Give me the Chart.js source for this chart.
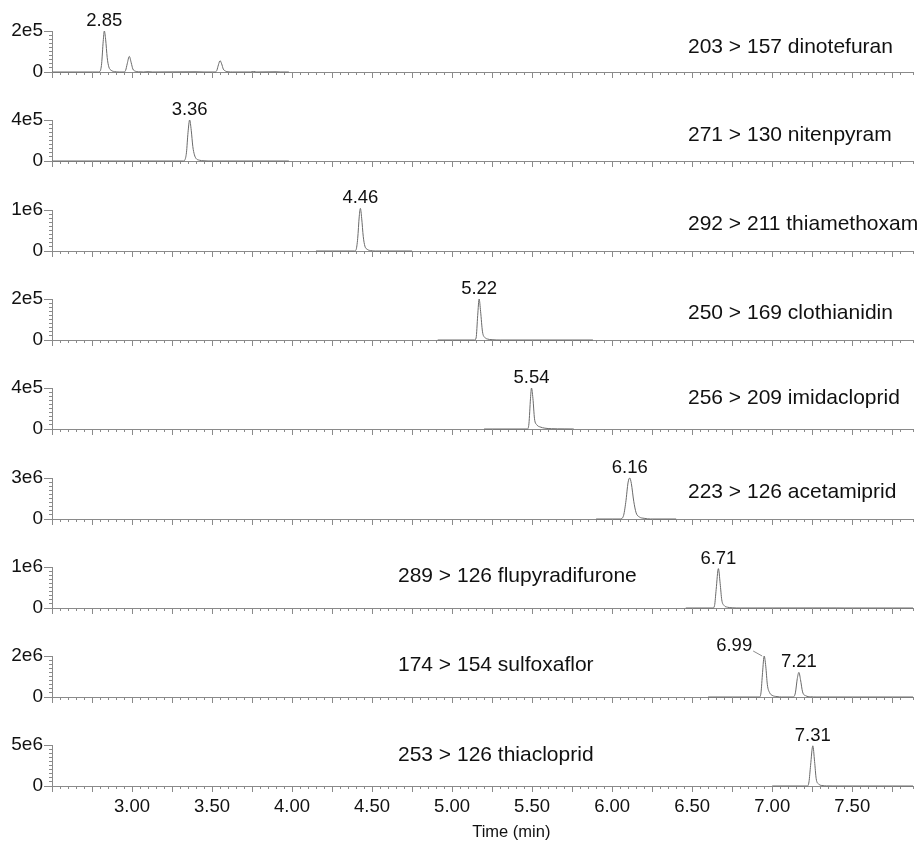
<!DOCTYPE html>
<html>
<head>
<meta charset="utf-8">
<title>MRM chromatograms</title>
<script src="https://cdn.jsdelivr.net/npm/chart.js@4.4.1/dist/chart.umd.min.js"></script>
<style>
  body { margin: 0; background: #fff; width: 922px; height: 842px; overflow: hidden; position: relative; }
  canvas { position: absolute; left: 0; }
</style>
</head>
<body>
<script>
// one panel per MRM transition
const transitions = [
  "203 > 157 dinotefuran",
  "271 > 130 nitenpyram",
  "292 > 211 thiamethoxam",
  "250 > 169 clothianidin",
  "256 > 209 imidacloprid",
  "223 > 126 acetamiprid",
  "289 > 126 flupyradifurone",
  "174 > 154 sulfoxaflor",
  "253 > 126 thiacloprid"
];
const yMax = [2e5, 4e5, 1e6, 2e5, 4e5, 3e6, 1e6, 2e6, 5e6];
const yTopLabels = ["2e5", "4e5", "1e6", "2e5", "4e5", "3e6", "1e6", "2e6", "5e6"];
const xTickValues = [3.0, 3.5, 4.0, 4.5, 5.0, 5.5, 6.0, 6.5, 7.0, 7.5];
const xTickLabels = ["3.00", "3.50", "4.00", "4.50", "5.00", "5.50", "6.00", "6.50", "7.00", "7.50"];

// traces: [time (min), intensity]
const dinotefuran = [
  [2.50, 0], [2.79, 0], [2.80, 3000], [2.81, 40000], [2.82, 150000], [2.827, 200000], [2.835, 160000],
  [2.845, 70000], [2.855, 25000], [2.87, 8000], [2.89, 2000], [2.92, 0],
  [2.95, 0], [2.96, 8000], [2.97, 40000], [2.983, 76000], [2.995, 45000], [3.005, 15000], [3.02, 4000],
  [3.04, 1000], [3.07, 0], [3.10, 1500], [3.13, 0], [3.40, 1000], [3.45, 0],
  [3.52, 0], [3.53, 8000], [3.54, 35000], [3.55, 55000], [3.56, 40000], [3.57, 15000], [3.585, 4000],
  [3.60, 1000], [3.63, 0], [3.74, 0], [3.76, 2500], [3.78, 0], [3.90, 1000], [3.93, 0], [3.98, 0]
];
const nitenpyram = [
  [2.50, 0], [3.32, 0], [3.33, 10000], [3.34, 80000], [3.35, 280000], [3.36, 400000], [3.37, 300000],
  [3.38, 140000], [3.39, 60000], [3.40, 25000], [3.42, 8000], [3.45, 2000], [3.50, 0], [3.98, 0]
];
const thiamethoxam = [
  [4.15, 0], [4.39, 0], [4.40, 30000], [4.41, 300000], [4.42, 850000], [4.427, 1040000], [4.435, 800000],
  [4.445, 350000], [4.455, 120000], [4.47, 40000], [4.49, 10000], [4.52, 0], [4.75, 0]
];
const clothianidin = [
  [4.91, 0], [5.14, 0], [5.15, 10000], [5.16, 120000], [5.169, 200000], [5.178, 140000], [5.19, 40000],
  [5.205, 12000], [5.22, 5000], [5.25, 1500], [5.30, 0], [5.88, 0]
];
const imidacloprid = [
  [5.20, 0], [5.47, 0], [5.48, 50000], [5.49, 300000], [5.496, 400000], [5.505, 300000], [5.515, 100000],
  [5.53, 40000], [5.55, 20000], [5.58, 8000], [5.62, 3000], [5.70, 1000], [5.76, 0]
];
const acetamiprid = [
  [5.90, 0], [6.05, 0], [6.07, 200000], [6.085, 1200000], [6.10, 2700000], [6.11, 3000000], [6.12, 2600000],
  [6.135, 1300000], [6.15, 450000], [6.17, 150000], [6.20, 50000], [6.24, 0], [6.40, 0]
];
const flupyradifurone = [
  [6.46, 0], [6.63, 0], [6.64, 60000], [6.65, 450000], [6.664, 960000], [6.675, 600000], [6.685, 200000],
  [6.70, 60000], [6.72, 20000], [6.75, 5000], [6.80, 0], [7.40, 1500], [7.45, 0], [7.88, 0]
];
const sulfoxaflor = [
  [6.60, 0], [6.92, 0], [6.93, 200000], [6.94, 1200000], [6.95, 2000000], [6.96, 1500000], [6.97, 600000],
  [6.985, 200000], [7.00, 80000], [7.03, 20000], [7.06, 0], [7.13, 0], [7.145, 200000], [7.157, 900000],
  [7.167, 1200000], [7.177, 850000], [7.19, 250000], [7.21, 60000], [7.24, 10000], [7.28, 0], [7.88, 0]
];
const thiacloprid = [
  [7.00, 0], [7.22, 0], [7.23, 500000], [7.24, 2500000], [7.254, 4900000], [7.265, 3000000], [7.275, 900000],
  [7.29, 250000], [7.31, 60000], [7.34, 10000], [7.38, 0], [7.88, 0]
];
const traces = [dinotefuran, nitenpyram, thiamethoxam, clothianidin, imidacloprid,
  acetamiprid, flupyradifurone, sulfoxaflor, thiacloprid];

// retention time labels: panel, text, apex time
const peakPanel = [0, 1, 2, 3, 4, 5, 6, 7, 7, 8];
const peakText = ["2.85", "3.36", "4.46", "5.22", "5.54", "6.16", "6.71", "6.99", "7.21", "7.31"];
const peakTime = [2.827, 3.36, 4.427, 5.169, 5.496, 6.11, 6.664, 6.95, 7.167, 7.254];

// layout
const W = 922;
const FONT = '"Liberation Sans", Arial, Helvetica, sans-serif';
const AXIS = "#8a8a8a";
const LINE = "#6a6a6a";
const labelX = [688, 688, 688, 688, 688, 688, 398, 398, 398];
const labelRise = [25, 26, 27, 27, 31, 27, 32, 32, 31];
const peakShift = [0, 0, 0, 0, 0, 0, 0, -30, 0, 0];

const near = (a, b) => Math.abs(a - b) < 1e-6;

const deco = {
  id: "deco",
  afterDraw(chart, args, o) {
    const i = o.panel;
    const { ctx, chartArea: a, scales: { x, y } } = chart;
    ctx.save();
    // longer ticks: every 0.25 min on x, 0 and top on y
    ctx.strokeStyle = AXIS;
    ctx.lineWidth = 1;
    ctx.beginPath();
    x.ticks.forEach(t => {
      if (near(t.value * 4, Math.round(t.value * 4))) {
        const px = Math.round(x.getPixelForValue(t.value)) + 0.5;
        ctx.moveTo(px, a.bottom);
        ctx.lineTo(px, a.bottom + 6);
      }
    });
    [0, y.max].forEach(v => {
      const py = Math.round(y.getPixelForValue(v)) + 0.5;
      ctx.moveTo(a.left - 8, py);
      ctx.lineTo(a.left, py);
    });
    ctx.stroke();

    // transition name
    ctx.fillStyle = "#111";
    ctx.font = "21px " + FONT;
    ctx.textAlign = "left";
    ctx.textBaseline = "middle";
    ctx.fillText(transitions[i], labelX[i], a.bottom - labelRise[i]);

    // retention time labels
    ctx.font = "18.5px " + FONT;
    ctx.textBaseline = "alphabetic";
    ctx.textAlign = "center";
    const pts = chart.getDatasetMeta(0)._parsed;
    peakPanel.forEach((p, k) => {
      if (p !== i) return;
      let best = pts[0];
      pts.forEach(q => { if (Math.abs(q.x - peakTime[k]) < Math.abs(best.x - peakTime[k])) best = q; });
      const px = x.getPixelForValue(best.x);
      const py = y.getPixelForValue(best.y);
      const tx = px + peakShift[k];
      ctx.fillText(peakText[k], tx, py - 5);
      if (peakShift[k] !== 0) {
        const w = ctx.measureText(peakText[k]).width;
        ctx.beginPath();
        ctx.moveTo(tx + w / 2 + 1, py - 5);
        ctx.lineTo(px - 2, py);
        ctx.stroke();
      }
    });

    if (o.last) {
      ctx.font = "16.5px " + FONT;
      ctx.textBaseline = "middle";
      ctx.fillText("Time (min)", x.getPixelForValue(5.37), a.bottom + 46);
    }
    ctx.restore();
  }
};

function makePanel(i) {
  const base = Math.round(72 + i * 89.3);
  const top = base - 41;
  const last = i === transitions.length - 1;
  const padTop = 30;
  const xH = last ? 60 : 12;
  const cv = document.createElement("canvas");
  cv.width = W;
  cv.height = padTop + (base - top) + xH;
  cv.style.width = W + "px";
  cv.style.height = cv.height + "px";
  document.body.appendChild(cv);

  const chart = new Chart(cv, {
    type: "line",
    data: {
      datasets: [{
        label: transitions[i],
        data: traces[i].map(p => ({ x: p[0], y: p[1] })),
        borderColor: LINE,
        borderWidth: 1,
        pointRadius: 0,
        fill: false,
        cubicInterpolationMode: "monotone",
        clip: false
      }]
    },
    options: {
      responsive: false,
      maintainAspectRatio: false,
      animation: false,
      devicePixelRatio: 1,
      layout: { padding: { top: padTop, right: 9, bottom: 0, left: 0 } },
      plugins: {
        legend: { display: false },
        tooltip: { enabled: false },
        deco: { panel: i, last: last }
      },
      scales: {
        x: {
          type: "linear",
          min: 2.5,
          max: 7.88,
          border: { color: AXIS, width: 1 },
          grid: { drawOnChartArea: false, tickLength: 3, color: AXIS },
          ticks: {
            stepSize: 0.05,
            autoSkip: false,
            maxRotation: 0,
            padding: 7,
            color: "#111",
            font: { family: FONT, size: 18.5 },
            callback: v => {
              if (!last) return "";
              const k = xTickValues.findIndex(t => near(t, v));
              return k < 0 ? "" : xTickLabels[k];
            }
          },
          afterFit: s => { s.height = xH; }
        },
        y: {
          min: 0,
          max: yMax[i],
          border: { color: AXIS, width: 1 },
          grid: { drawOnChartArea: false, tickLength: 3, color: AXIS },
          ticks: {
            stepSize: yMax[i] / 10,
            autoSkip: false,
            padding: 6,
            color: "#111",
            font: { family: FONT, size: 19 },
            callback: v => near(v, 0) ? "0" : (near(v / yMax[i], 1) ? yTopLabels[i] : "")
          },
          afterFit: s => { s.width = 52; }
        }
      }
    },
    plugins: [deco]
  });

  // the y labels can push the plot area; grow the canvas until the plot is the wanted height
  const a = chart.chartArea;
  const dh = (base - top) - (a.bottom - a.top);
  if (dh !== 0) chart.resize(W, cv.height + dh);
  cv.style.top = (top - chart.chartArea.top) + "px";
  return chart;
}

transitions.forEach((t, i) => makePanel(i));
</script>
</body>
</html>
